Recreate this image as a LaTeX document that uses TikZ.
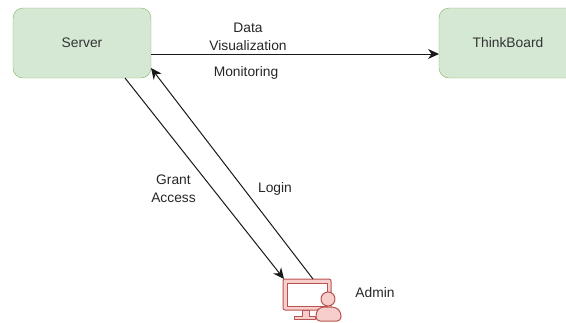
\documentclass[tikz,border=0pt]{standalone}
\usepackage{fontspec}
\setmainfont{Liberation Sans}
\usepackage{tikz}
\usetikzlibrary{arrows.meta}
\definecolor{boxfill}{HTML}{D5E8D4}
\definecolor{boxline}{HTML}{82B366}
\definecolor{iconfill}{HTML}{F8CECC}
\definecolor{iconline}{HTML}{B85450}
\tikzset{
  block/.style={draw=boxline, fill=boxfill, rounded corners=10pt, minimum width=138pt, minimum height=70pt, inner sep=0pt, text=black!80},
  lbl/.style={inner sep=0pt, align=center, text=black!85},
  link/.style={draw=black!90, line width=1pt, -{Stealth[length=11pt,width=10pt]}},
  icon/.style={draw=iconline, fill=iconfill, line width=1pt, line join=round}
}
\newcommand{\lablnode}[4]{\node[lbl] (#1) at ( #2 , #3 ) {#4};}

\begin{document}
\begin{tikzpicture}[x=1pt,y=-1pt,font=\fontsize{13.8pt}{18pt}\selectfont]
        \useasboundingbox (0,0) rectangle (566,322);
        % boxes
        \node[block] (server) at (82,43) {Server};
        \node[block] (board) at (508,43) {ThinkBoard};

        % admin icon
        \draw[icon] (302,310) -- (302,316) -- (294,316) -- (294,319) -- (315,319) -- (315,316) -- (309,316) -- (309,310) -- cycle;
        \draw[icon, rounded corners=2pt] (283,279) rectangle (331,310);
        \draw[draw=iconline, fill=white, line width=1pt] (287.5,283.5) rectangle (327,306.5);
        \draw[icon, rounded corners=4pt] (316,321) -- (316,312) -- (320,307) -- (336,307) -- (341,312) -- (341,321) -- cycle;
        \draw[icon] (328,299) circle (7);

        % ends of the connectors
        \coordinate (srvout) at (151,54);
        \coordinate (brdin) at (439,54);
        \coordinate (srvdown) at (125,78);
        \coordinate (srvin) at (151,68);
        \coordinate (admin1) at (284,279);
        \coordinate (admin2) at (313,279);

        % arrows
        \draw[link] (srvout) -- (brdin);
        \draw[link] (srvdown) -- (admin1);
        \draw[link] (admin2) -- (srvin);

        % labels
        \lablnode{datalbl}{248}{37}{Data\\Visualization}
        \lablnode{monlbl}{246}{72.5}{Monitoring}
        \lablnode{grantlbl}{173.5}{188.5}{Grant\\Access}
        \lablnode{loginlbl}{275}{188.5}{Login}
        \lablnode{adminlbl}{375}{293}{Admin}
\end{tikzpicture}
\end{document}
